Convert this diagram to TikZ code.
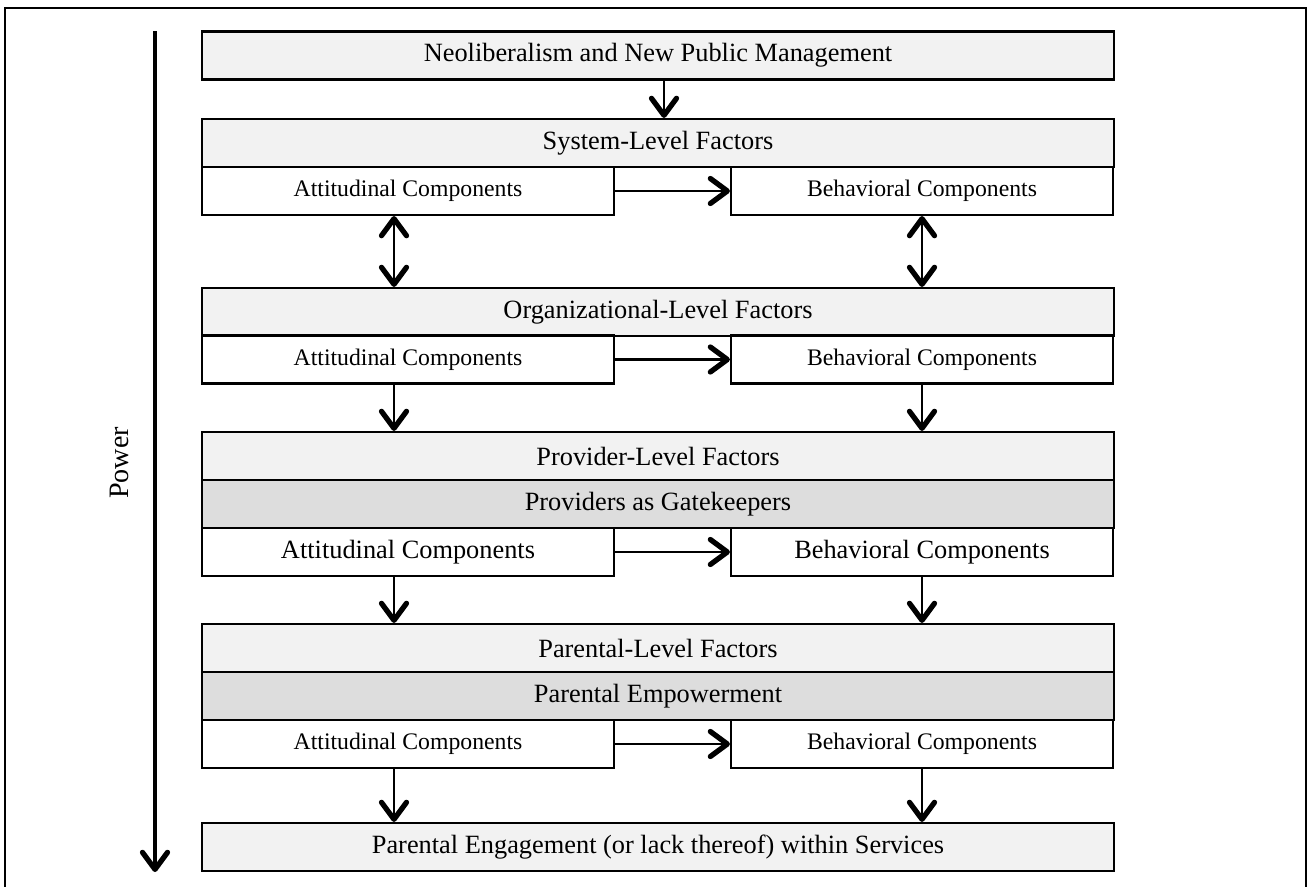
\documentclass[tikz,border=0pt]{standalone}
\usepackage{fontspec}
\setmainfont{Liberation Serif}
\usetikzlibrary{arrows.meta,positioning}
\definecolor{HeadFill}{HTML}{F2F2F2}
\definecolor{BandFill}{HTML}{DDDDDD}

\begin{document}
\begin{tikzpicture}[x=0.02cm,y=-0.02cm,
  >={Straight Barb[length=3.4mm,width=5mm,line width=3pt,round]},
  levelbox/.style={draw,line width=1.2pt,fill=HeadFill,minimum width=18.24cm,minimum height=0.96cm,inner sep=0pt,font=\fontsize{15}{18}\selectfont},
  bandbox/.style={levelbox,fill=BandFill},
  attbox/.style={draw,line width=1.2pt,fill=white,minimum width=8.24cm,minimum height=0.96cm,inner sep=0pt,font=\fontsize{13.5}{16}\selectfont},
  behbox/.style={attbox,minimum width=7.64cm},
  bigcomp/.style={font=\fontsize{15}{18}\selectfont},
  flow/.style={line width=1.4pt,->}
]
\useasboundingbox (0,0) rectangle (1308,886);
\draw[line width=1.3pt] (5,900) -- (5,8) -- (1306,8) -- (1306,900);

\coordinate (lcol) at (394,0);
\coordinate (rcol) at (922,0);
\coordinate (mcol) at (664,0);
\coordinate (ptop) at (155,31);
\coordinate (pend) at (155,872);

\draw[flow,line width=1.8pt] (ptop) -- (pend);
\node[rotate=90,font=\fontsize{16}{19}\selectfont] (power) at (119,463) {Power};

\node[levelbox] (neo) at (658,55.5) {Neoliberalism and New Public Management};

\node[levelbox] (sysH) at (658,143) {System-Level Factors};
\node[attbox] (sysA) at (408,191) {Attitudinal Components};
\node[behbox] (sysB) at (922,191) {Behavioral Components};

\node[levelbox] (orgH) at (658,312) {Organizational-Level Factors};
\node[attbox] (orgA) at (408,359.5) {Attitudinal Components};
\node[behbox] (orgB) at (922,359.5) {Behavioral Components};

\node[levelbox] (provH) at (658,456) {Provider-Level Factors};
\node[bandbox] (provG) at (658,504) {Providers as Gatekeepers};
\node[attbox,bigcomp] (provA) at (408,552) {Attitudinal Components};
\node[behbox,bigcomp] (provB) at (922,552) {Behavioral Components};

\node[levelbox] (parH) at (658,648) {Parental-Level Factors};
\node[bandbox] (parE) at (658,696) {Parental Empowerment};
\node[attbox] (parA) at (408,744) {Attitudinal Components};
\node[behbox] (parB) at (922,744) {Behavioral Components};

\node[levelbox] (engage) at (658,847) {Parental Engagement (or lack thereof) within Services};

\draw[flow] (neo.south -| mcol) -- (sysH.north -| mcol);
\draw[flow] (sysA.east) -- (sysB.west);
\draw[flow,<->] (sysA.south -| lcol) -- (orgH.north -| lcol);
\draw[flow,<->] (sysB.south -| rcol) -- (orgH.north -| rcol);
\draw[flow] (orgA.east) -- (orgB.west);
\draw[flow] (orgA.south -| lcol) -- (provH.north -| lcol);
\draw[flow] (orgB.south -| rcol) -- (provH.north -| rcol);
\draw[flow] (provA.east) -- (provB.west);
\draw[flow] (provA.south -| lcol) -- (parH.north -| lcol);
\draw[flow] (provB.south -| rcol) -- (parH.north -| rcol);
\draw[flow] (parA.east) -- (parB.west);
\draw[flow] (parA.south -| lcol) -- (engage.north -| lcol);
\draw[flow] (parB.south -| rcol) -- (engage.north -| rcol);
\end{tikzpicture}
\end{document}
